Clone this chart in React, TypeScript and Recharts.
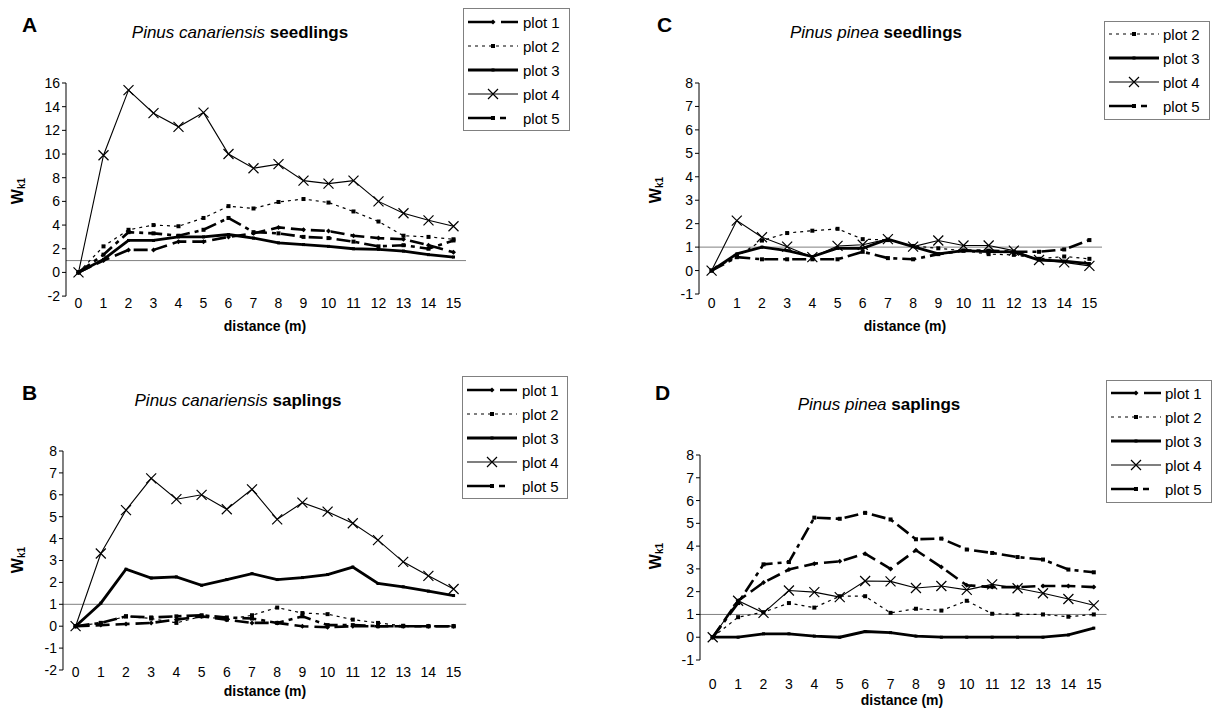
import React from "react";
import { LineChart, Line, XAxis, YAxis, ReferenceLine } from "recharts";

const distances = [0, 1, 2, 3, 4, 5, 6, 7, 8, 9, 10, 11, 12, 13, 14, 15];

// A: Pinus canariensis seedlings
const aPlot1 = [0, 1.0, 1.9, 1.9, 2.6, 2.6, 3.0, 3.3, 3.8, 3.6, 3.5, 3.1, 2.9, 2.8, 2.3, 1.7];
const aPlot2 = [0, 2.2, 3.6, 4.0, 3.9, 4.6, 5.6, 5.4, 5.95, 6.2, 5.9, 5.15, 4.3, 3.1, 3.0, 2.8];
const aPlot3 = [0, 1.1, 2.7, 2.7, 3.0, 3.0, 3.2, 2.9, 2.5, 2.35, 2.2, 2.0, 1.95, 1.8, 1.5, 1.3];
const aPlot4 = [0, 9.9, 15.4, 13.45, 12.3, 13.5, 10.0, 8.8, 9.15, 7.75, 7.5, 7.75, 6.0, 5.0, 4.4, 3.9];
const aPlot5 = [0, 1.5, 3.4, 3.3, 3.1, 3.6, 4.6, 3.4, 3.3, 3.0, 2.9, 2.6, 2.2, 2.3, 2.0, 2.7];

// B: Pinus canariensis saplings
const bPlot1 = [0, 0.05, 0.1, 0.15, 0.3, 0.45, 0.3, 0.15, 0.15, 0.0, -0.05, 0, 0, 0, 0, 0];
const bPlot2 = [0, 0.15, 0.45, 0.35, 0.15, 0.45, 0.3, 0.5, 0.85, 0.6, 0.55, 0.3, 0.15, 0.02, 0, 0];
const bPlot3 = [0, 1.05, 2.6, 2.2, 2.25, 1.87, 2.13, 2.4, 2.13, 2.22, 2.36, 2.7, 1.95, 1.8, 1.6, 1.4];
const bPlot4 = [0, 3.32, 5.3, 6.75, 5.8, 6.0, 5.34, 6.25, 4.88, 5.64, 5.23, 4.7, 3.93, 2.94, 2.3, 1.7];
const bPlot5 = [0, 0.15, 0.45, 0.4, 0.45, 0.5, 0.4, 0.35, 0.15, 0.45, 0.05, 0.05, 0, 0, 0, 0];

// C: Pinus pinea seedlings
const cPlot2 = [0, 0.6, 1.28, 1.6, 1.7, 1.78, 1.34, 1.3, 1.05, 0.95, 0.85, 0.7, 0.67, 0.5, 0.6, 0.5];
const cPlot3 = [0, 0.71, 1.0, 0.85, 0.6, 0.95, 0.95, 1.34, 1.02, 0.71, 0.85, 0.81, 0.8, 0.45, 0.4, 0.3];
const cPlot4 = [0, 2.13, 1.42, 1.02, 0.57, 1.05, 1.1, 1.34, 1.02, 1.28, 1.07, 1.07, 0.85, 0.45, 0.35, 0.2];
const cPlot5 = [0, 0.57, 0.48, 0.48, 0.48, 0.48, 0.8, 0.53, 0.48, 0.7, 0.85, 0.85, 0.8, 0.8, 0.9, 1.3];

// D: Pinus pinea saplings
const dPlot1 = [0, 1.6, 2.4, 2.97, 3.23, 3.33, 3.67, 3.0, 3.82, 3.08, 2.28, 2.2, 2.2, 2.25, 2.25, 2.2];
const dPlot2 = [0, 0.88, 1.1, 1.5, 1.3, 1.8, 1.8, 1.07, 1.25, 1.17, 1.6, 1.03, 1.0, 1.0, 0.9, 1.0];
const dPlot3 = [0, 0, 0.15, 0.15, 0.05, 0, 0.25, 0.2, 0.05, 0, 0, 0, 0, 0, 0.1, 0.4];
const dPlot4 = [0, 1.6, 1.07, 2.05, 1.98, 1.76, 2.47, 2.45, 2.16, 2.25, 2.08, 2.32, 2.15, 1.93, 1.68, 1.4];
const dPlot5 = [0, 1.5, 3.2, 3.3, 5.25, 5.2, 5.46, 5.17, 4.3, 4.33, 3.85, 3.7, 3.52, 3.41, 2.97, 2.85];

const FONT = "Arial, 'Liberation Sans', sans-serif";

type Key = "p1" | "p2" | "p3" | "p4" | "p5";

const STYLE: Record<Key, { width: number; dash?: string; legendDash?: string; dot: string }> = {
  p1: { width: 2.6, dash: "14 6", legendDash: "25 8 17", dot: "diamond" },
  p2: { width: 1.2, dash: "3 4", legendDash: "3 4", dot: "square" },
  p3: { width: 2.8, dot: "tiny" },
  p4: { width: 1.1, dot: "x" },
  p5: { width: 2.6, dash: "14 5 4 5", legendDash: "25 7 6 12", dot: "square" },
};

const marker = (kind: string, cx: number, cy: number, key?: any) => {
  if (kind === "x") {
    const s = 5;
    return (
      <path
        key={key}
        d={`M${cx - s},${cy - s}L${cx + s},${cy + s}M${cx - s},${cy + s}L${cx + s},${cy - s}`}
        stroke="#000"
        strokeWidth={1.2}
        fill="none"
      />
    );
  }
  if (kind === "square") {
    return <rect key={key} x={cx - 2} y={cy - 2} width={4} height={4} fill="#000" />;
  }
  if (kind === "diamond") {
    return <path key={key} d={`M${cx - 2.5},${cy}L${cx},${cy - 2.5}L${cx + 2.5},${cy}L${cx},${cy + 2.5}Z`} fill="#000" />;
  }
  return <rect key={key} x={cx - 1.5} y={cy - 1.5} width={3} height={3} fill="#000" />;
};

const dotFor = (kind: string) => (props: any) => {
  const { cx, cy, index } = props;
  if (cx == null || cy == null) return <g key={index} />;
  return marker(kind, cx, cy, index);
};

type Panel = {
  letter: string;
  species: string;
  stage: string;
  L: number;
  T: number;
  R: number;
  B: number;
  yTicks: number[];
  tickOffset: number;
  series: { key: Key; values: number[] }[];
  title: { x: number; y: number };
  letterPos: { x: number; y: number };
  yLabel: { x: number; y: number };
  xLabel: { x: number; y: number };
  legend: { x: number; y: number; w: number; rowY: number[]; sw: number; tx: number };
};

const range = (a: number, b: number, s: number) => {
  const out: number[] = [];
  for (let v = a; v <= b; v += s) out.push(v);
  return out;
};

const panels: Panel[] = [
  {
    letter: "A",
    species: "Pinus canariensis",
    stage: "seedlings",
    L: 66,
    T: 83.3,
    R: 466,
    B: 296.4,
    yTicks: range(-2, 16, 2),
    tickOffset: 7,
    series: [
      { key: "p1", values: aPlot1 },
      { key: "p2", values: aPlot2 },
      { key: "p3", values: aPlot3 },
      { key: "p4", values: aPlot4 },
      { key: "p5", values: aPlot5 },
    ],
    title: { x: 240, y: 38 },
    letterPos: { x: 22, y: 32 },
    yLabel: { x: 17, y: 191 },
    xLabel: { x: 265, y: 326 },
    legend: { x: 463.5, y: 8.5, w: 106, rowY: [22, 46, 70, 94, 118], sw: 468, tx: 523 },
  },
  {
    letter: "B",
    species: "Pinus canariensis",
    stage: "saplings",
    L: 62.5,
    T: 451,
    R: 465.7,
    B: 670,
    yTicks: range(-2, 8, 1),
    tickOffset: 2,
    series: [
      { key: "p1", values: bPlot1 },
      { key: "p2", values: bPlot2 },
      { key: "p3", values: bPlot3 },
      { key: "p4", values: bPlot4 },
      { key: "p5", values: bPlot5 },
    ],
    title: { x: 238, y: 406 },
    letterPos: { x: 22, y: 400 },
    yLabel: { x: 17, y: 560 },
    xLabel: { x: 265, y: 691 },
    legend: { x: 462.5, y: 376.5, w: 105, rowY: [390, 414, 438, 462, 486], sw: 467, tx: 522 },
  },
  {
    letter: "C",
    species: "Pinus pinea",
    stage: "seedlings",
    L: 698.5,
    T: 83.3,
    R: 1101.5,
    B: 294.3,
    yTicks: range(-1, 8, 1),
    tickOffset: 9,
    series: [
      { key: "p2", values: cPlot2 },
      { key: "p3", values: cPlot3 },
      { key: "p4", values: cPlot4 },
      { key: "p5", values: cPlot5 },
    ],
    title: { x: 876, y: 38 },
    letterPos: { x: 657, y: 32 },
    yLabel: { x: 655, y: 190 },
    xLabel: { x: 905, y: 326 },
    legend: { x: 1104.5, y: 21.5, w: 105, rowY: [34, 58, 82, 106], sw: 1109, tx: 1163 },
  },
  {
    letter: "D",
    species: "Pinus pinea",
    stage: "saplings",
    L: 699.5,
    T: 455,
    R: 1106,
    B: 660,
    yTicks: range(-1, 8, 1),
    tickOffset: 24,
    series: [
      { key: "p1", values: dPlot1 },
      { key: "p2", values: dPlot2 },
      { key: "p3", values: dPlot3 },
      { key: "p4", values: dPlot4 },
      { key: "p5", values: dPlot5 },
    ],
    title: { x: 879, y: 410 },
    letterPos: { x: 655, y: 400 },
    yLabel: { x: 655, y: 556 },
    xLabel: { x: 902, y: 700 },
    legend: { x: 1106.5, y: 380.5, w: 105, rowY: [393, 417, 441, 465, 489], sw: 1111, tx: 1165 },
  },
];

const YW = 60;
const PAD_T = 10;
const PAD_R = 10;
const XH = 40;

function PanelChart({ p }: { p: Panel }) {
  const rows = distances.map((d, i) => {
    const r: any = { d };
    p.series.forEach((s) => (r[s.key] = s.values[i]));
    return r;
  });
  const w = p.R - p.L + YW + PAD_R;
  const h = p.B - p.T + PAD_T + XH;
  const yMin = p.yTicks[0];
  const yMax = p.yTicks[p.yTicks.length - 1];
  const XTick = (props: any) => (
    <text
      x={props.x}
      y={props.y + p.tickOffset}
      textAnchor="middle"
      dominantBaseline="central"
      fontSize={14}
      fontFamily={FONT}
      fill="#000"
    >
      {props.payload.value}
    </text>
  );
  return (
    <div style={{ position: "absolute", left: p.L - YW, top: p.T - PAD_T }}>
      <LineChart width={w} height={h} data={rows} margin={{ top: PAD_T, right: PAD_R, bottom: 0, left: 0 }}>
        <XAxis
          dataKey="d"
          type="number"
          domain={[-0.5, 15.5]}
          ticks={distances}
          axisLine={false}
          tickLine={false}
          tickSize={0}
          tickMargin={0}
          height={XH}
          interval={0}
          tick={XTick}
        />
        <YAxis
          type="number"
          domain={[yMin, yMax]}
          ticks={p.yTicks}
          width={YW}
          interval={0}
          axisLine={{ stroke: "#000", strokeWidth: 1 }}
          tickLine={{ stroke: "#000", strokeWidth: 1 }}
          tickSize={4}
          tickMargin={2}
          tick={{ fill: "#000", fontSize: 14, fontFamily: FONT }}
        />
        <ReferenceLine y={1} stroke="#808080" strokeWidth={1} />
        {p.series.map((s) => (
          <Line
            key={s.key}
            dataKey={s.key}
            type="linear"
            stroke="#000"
            strokeWidth={STYLE[s.key].width}
            strokeDasharray={STYLE[s.key].dash}
            dot={dotFor(STYLE[s.key].dot)}
            activeDot={false}
            isAnimationActive={false}
          />
        ))}
      </LineChart>
    </div>
  );
}

function Overlay() {
  return (
    <svg
      width={1213}
      height={711}
      style={{ position: "absolute", left: 0, top: 0, pointerEvents: "none" }}
      fontFamily={FONT}
    >
      {panels.map((p) => {
        const lg = p.legend;
        const boxH = p.series.length * 24 + 2;
        return (
          <g key={p.letter}>
            <text x={p.letterPos.x} y={p.letterPos.y} fontSize={21} fontWeight="bold" fill="#000">
              {p.letter}
            </text>
            <text x={p.title.x} y={p.title.y} fontSize={17} textAnchor="middle" fill="#000">
              <tspan fontStyle="italic">{p.species}</tspan>
              <tspan fontWeight="bold">{" " + p.stage}</tspan>
            </text>
            <text
              x={p.yLabel.x}
              y={p.yLabel.y}
              transform={`rotate(-90, ${p.yLabel.x}, ${p.yLabel.y})`}
              textAnchor="middle"
              dominantBaseline="central"
              fontSize={16}
              fontWeight="bold"
              fill="#000"
            >
              W<tspan fontSize={10} dy={4}>k1</tspan>
            </text>
            <text
              x={p.xLabel.x}
              y={p.xLabel.y}
              textAnchor="middle"
              dominantBaseline="central"
              fontSize={14}
              fontWeight="bold"
              fill="#000"
            >
              distance (m)
            </text>
            <rect x={lg.x} y={lg.y} width={lg.w} height={boxH} fill="#fff" stroke="#808080" strokeWidth={1} />
            {p.series.map((s, i) => {
              const st = STYLE[s.key];
              const cy = lg.rowY[i];
              const mid = lg.sw + 25;
              return (
                <g key={s.key}>
                  <line
                    x1={lg.sw}
                    x2={lg.sw + 50}
                    y1={cy}
                    y2={cy}
                    stroke="#000"
                    strokeWidth={st.width}
                    strokeDasharray={st.legendDash}
                  />
                  {marker(st.dot, mid, cy)}
                  <text x={lg.tx} y={cy} dominantBaseline="central" fontSize={15} fill="#000">
                    {"plot " + s.key.slice(1)}
                  </text>
                </g>
              );
            })}
          </g>
        );
      })}
    </svg>
  );
}

export default function App() {
  return (
    <div style={{ position: "absolute", left: 0, top: 0, width: 1213, height: 711, background: "#fff" }}>
      {panels.map((p) => (
        <PanelChart key={p.letter} p={p} />
      ))}
      <Overlay />
    </div>
  );
}
